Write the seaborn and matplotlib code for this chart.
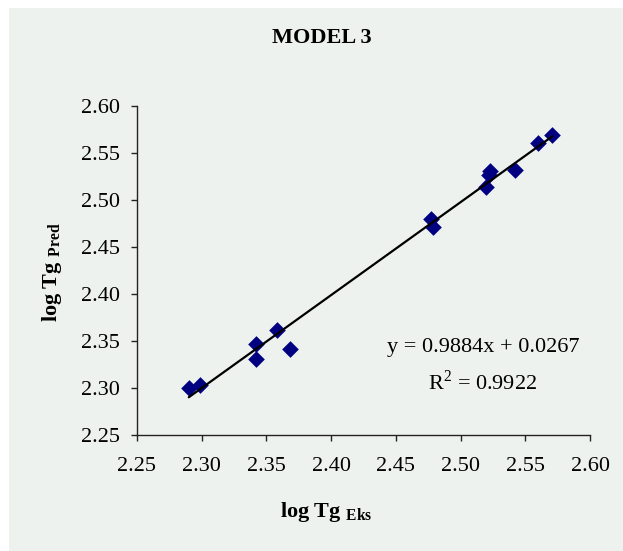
import numpy as np
import pandas as pd
import seaborn as sns
import matplotlib.pyplot as plt
from matplotlib.patches import Rectangle

# data
log_tg_eks = [2.290, 2.299, 2.342, 2.342, 2.358, 2.368, 2.477, 2.479,
              2.520, 2.522, 2.523, 2.542, 2.560, 2.571]
log_tg_pred = [2.300, 2.303, 2.347, 2.331, 2.362, 2.342, 2.480, 2.471,
               2.514, 2.527, 2.531, 2.532, 2.561, 2.569]
slope = 0.9884
intercept = 0.0267
r2 = 0.9922
ticks = [2.25, 2.30, 2.35, 2.40, 2.45, 2.50, 2.55, 2.60]

df = pd.DataFrame({"eks": log_tg_eks, "pred": log_tg_pred})

sns.set_style("white")
plt.rcParams["font.family"] = ["Liberation Serif", "DejaVu Serif"]
plt.rcParams["mathtext.fontset"] = "custom"
plt.rcParams["mathtext.rm"] = "Liberation Serif"
plt.rcParams["mathtext.bf"] = "Liberation Serif:bold"
plt.rcParams["text.color"] = "black"
plt.rcParams["xtick.color"] = "black"
plt.rcParams["ytick.color"] = "black"

bg = "#eef2ef"
fig = plt.figure(figsize=(6.23, 5.51), dpi=100, facecolor="white")
fig.patches.append(Rectangle((9 / 623, 0), 1, 1 - 8 / 551, transform=fig.transFigure,
                             facecolor=bg, edgecolor="none", zorder=-10))
ax = fig.add_axes([137 / 623, 1 - 435 / 551, (590 - 137) / 623, (435 - 106) / 551])
ax.set_facecolor(bg)

# trendline (Excel linear fit)
xl = np.array([min(log_tg_eks), max(log_tg_eks)])
ax.plot(xl, slope * xl + intercept, color="black", lw=1.6, zorder=3)

sns.scatterplot(data=df, x="eks", y="pred", marker="D", s=72, color="#000080",
                edgecolor="#000080", linewidth=0, ax=ax, zorder=2)

ax.set_xlim(2.25, 2.60)
ax.set_ylim(2.25, 2.60)
ax.set_xticks(ticks)
ax.set_yticks(ticks)
ax.set_xticklabels([f"{t:.2f}" for t in ticks])
ax.set_yticklabels([f"{t:.2f}" for t in ticks])
ax.set_xlabel("")
ax.set_ylabel("")
for side in ["top", "right"]:
    ax.spines[side].set_visible(False)
for side in ["left", "bottom"]:
    ax.spines[side].set_color("#222222")
    ax.spines[side].set_linewidth(1.0)
ax.tick_params(direction="out", length=4.5, width=1, color="#222222",
               labelcolor="black", labelsize=16, left=True, bottom=True)
ax.tick_params(axis="x", pad=11)
ax.tick_params(axis="y", pad=8)

ax.text(0.764, 0.267, f"y = {slope}x + {intercept}", transform=ax.transAxes,
        ha="center", va="center", fontsize=16)
ax.text(0.762, 0.161, f"R$^2$ = {r2}", transform=ax.transAxes,
        ha="center", va="center", fontsize=16)

fig.text(322 / 623, 1 - 38 / 551, "MODEL 3", ha="center", va="center",
         fontsize=16, fontweight="bold")
fig.text(326 / 623, 1 - 512 / 551, r"log Tg $_{\mathbf{Eks}}$", ha="center",
         va="center", fontsize=16, fontweight="bold")
fig.text(52 / 623, 1 - 272 / 551, r"log Tg $_{\mathbf{Pred}}$", ha="center",
         va="center", fontsize=16, fontweight="bold", rotation=90)

fig.savefig("out.png", dpi=100, facecolor="white")
